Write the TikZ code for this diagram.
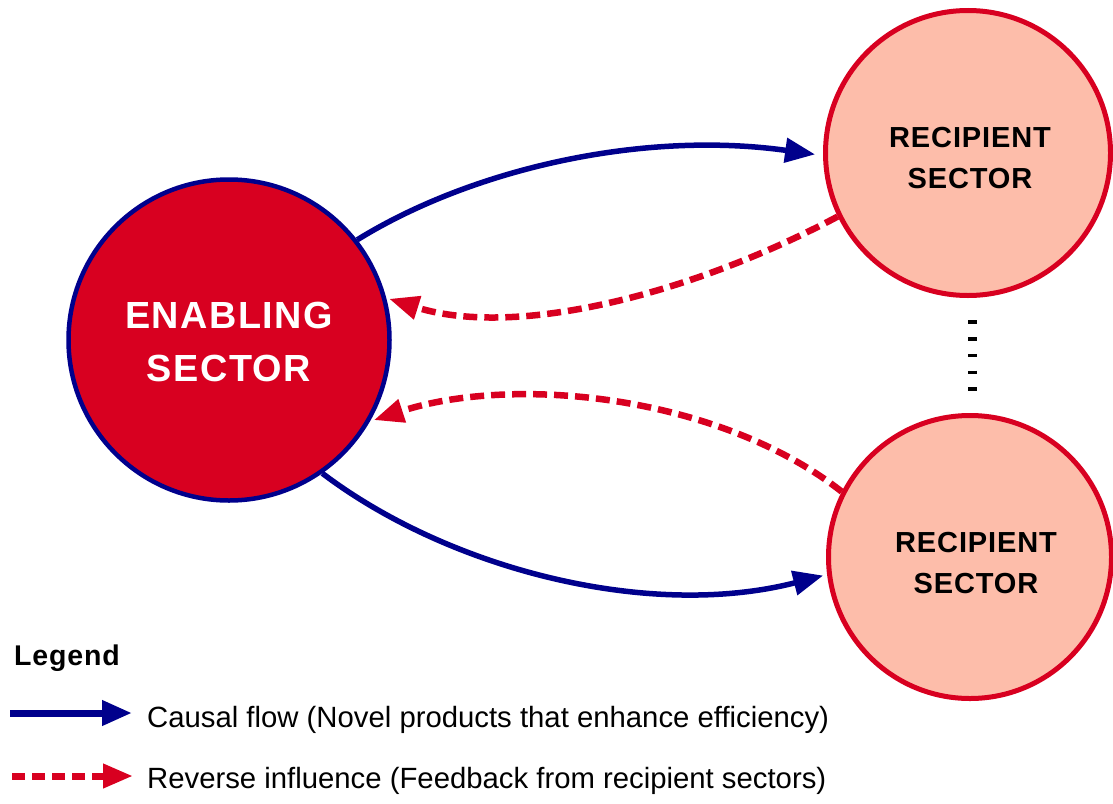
\documentclass[tikz,border=0pt]{standalone}
\usepackage{fontspec}
\setmainfont{Liberation Sans}
\newfontfamily\spacedA[LetterSpace=4.0]{Liberation Sans}
\newfontfamily\spacedB[LetterSpace=3.0]{Liberation Sans}
\usetikzlibrary{arrows.meta}
\definecolor{sectred}{RGB}{216,0,32}
\definecolor{navy}{RGB}{0,0,140}
\definecolor{salmon}{RGB}{253,189,170}
\tikzset{
  enabling/.style={circle,draw=navy,fill=sectred,line width=4.5pt,minimum size=321pt,inner sep=0pt},
  recipient/.style={circle,draw=sectred,fill=salmon,line width=5pt,inner sep=0pt},
  causal/.style={draw=navy,line width=5.5pt,-{Triangle[length=30pt,width=24pt]}},
  reverse/.style={draw=sectred,line width=6.5pt,dash pattern=on 14pt off 7pt,-{Triangle[length=30pt,width=23pt]}},
  enabtext/.style={text=white,align=center,font=\spacedA\bfseries\fontsize{37.8}{53}\selectfont},
  reciptext/.style={text=black,align=center,font=\spacedB\bfseries\fontsize{29}{41}\selectfont},
  legtext/.style={anchor=base west,inner sep=0pt,font=\fontsize{29.3}{34}\selectfont}
}
\begin{document}
\begin{tikzpicture}[x=1pt,y=-1pt]
\useasboundingbox (0,0) rectangle (1113,803);
% sectors
\node[enabling] (E) at (229,340) {};
\node[recipient,minimum size=285pt] (R1) at (968,153) {};
\node[recipient,minimum size=283pt] (R2) at (970,557) {};
\node[enabtext] (tE) at (229,342) {ENABLING\\SECTOR};
\node[reciptext] (tR1) at (970,158.5) {RECIPIENT\\SECTOR};
\node[reciptext] (tR2) at (976,563.5) {RECIPIENT\\SECTOR};
% ellipsis between recipients
\draw[black,line width=9pt,dash pattern=on 3.5pt off 13.25pt] (972.5,320.25) -- (972.5,390.75);
% connectors
\draw[causal,shorten >=8pt] (E.38.8) .. controls (470,170) and (640,130) .. (R1.181.5);
\draw[reverse,shorten >=3pt] (R1.206) .. controls (700,290) and (520,340) .. (E.15);
\draw[reverse,shorten >=4pt] (R2.153.4) .. controls (720,396) and (515,374) .. (E.-30.3);
\draw[causal,shorten >=4pt] (E.-55.1) .. controls (450,570) and (650,620) .. (R2.187.7);
% legend
\node[anchor=base west,inner sep=0pt,font=\spacedB\bfseries\fontsize{28.5}{34}\selectfont] (leg) at (14,665) {Legend};
\coordinate (c1a) at (10,713);
\coordinate (c1b) at (132,713);
\coordinate (c2a) at (12,776);
\coordinate (c2b) at (133,776);
\draw[causal,line width=7pt] (c1a) -- (c1b);
\draw[reverse,line width=7pt,dash pattern=on 13pt off 7pt] (c2a) -- (c2b);
\node[legtext] (l1) at (147,727) {Causal flow (Novel products that enhance efficiency)};
\node[legtext] (l2) at (147,788) {Reverse influence (Feedback from recipient sectors)};
\end{tikzpicture}
\end{document}
